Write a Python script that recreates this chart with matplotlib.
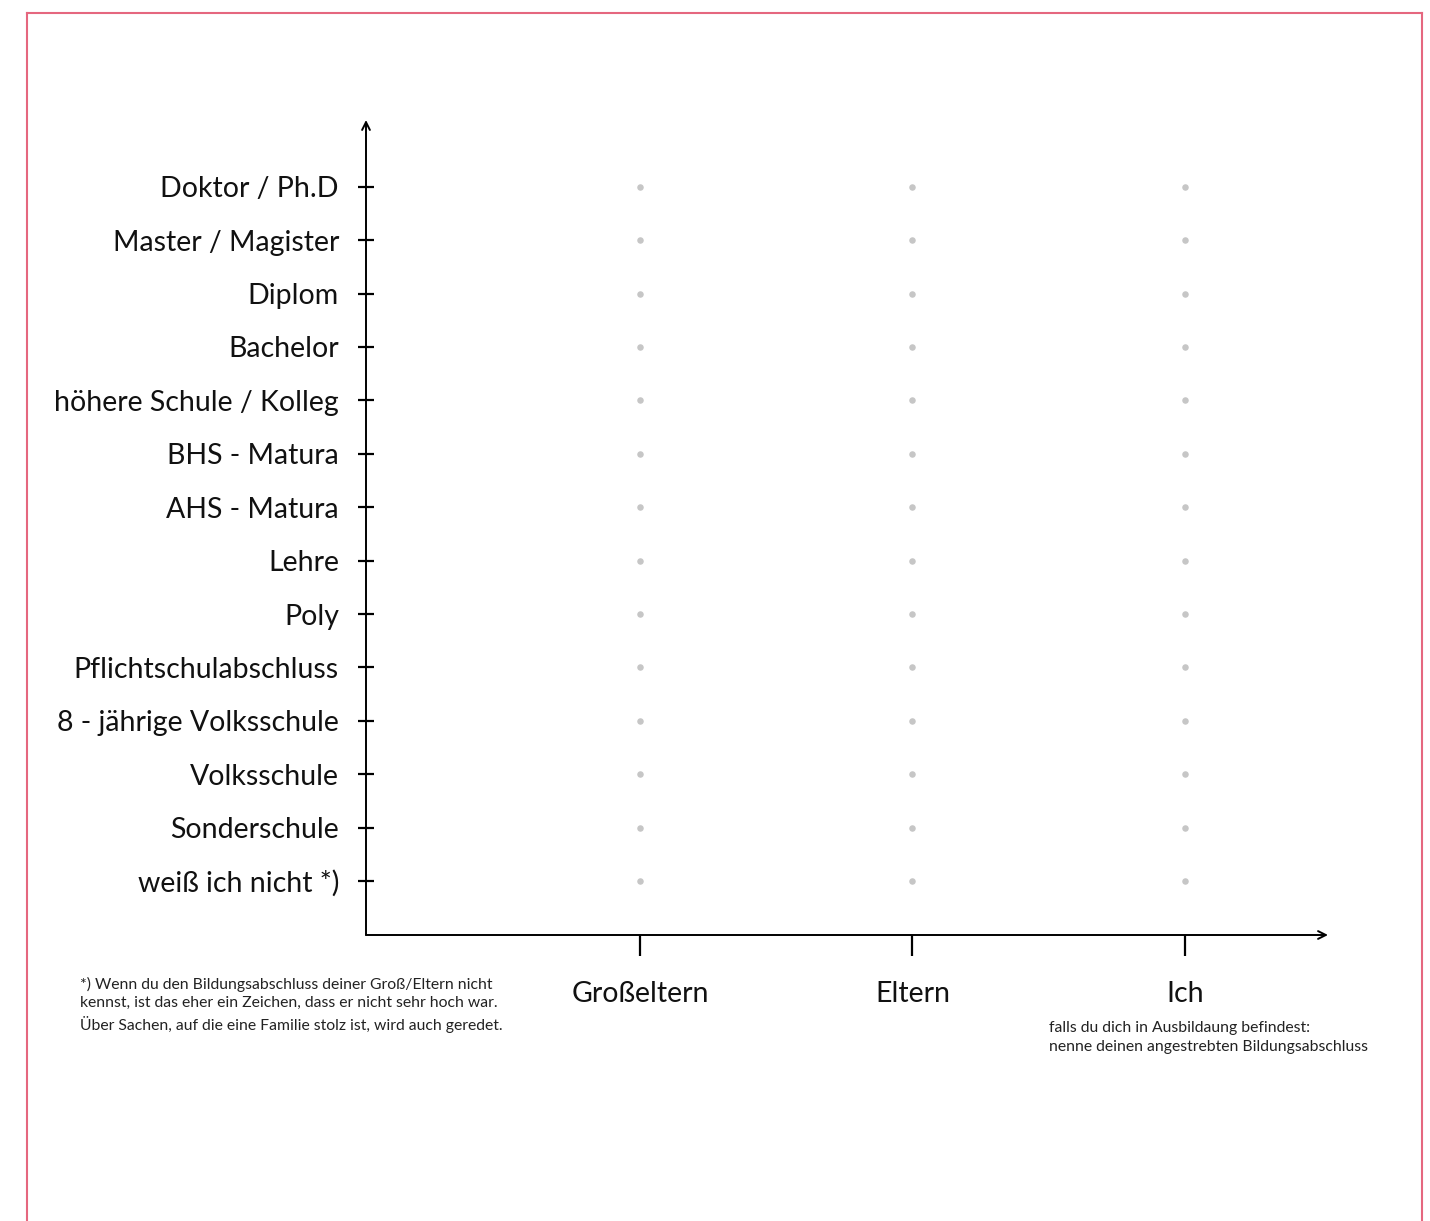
import matplotlib.pyplot as plt
from matplotlib.lines import Line2D

plt.rcParams['font.family'] = ['Lato', 'DejaVu Sans']

# education levels, bottom to top
levels = ["weiß ich nicht *)", "Sonderschule", "Volksschule",
          "8 - jährige Volksschule", "Pflichtschulabschluss", "Poly",
          "Lehre", "AHS - Matura", "BHS - Matura",
          "höhere Schule / Kolleg", "Bachelor", "Diplom",
          "Master / Magister", "Doktor / Ph.D"]
generations = ["Großeltern", "Eltern", "Ich"]

footnote = ("*) Wenn du den Bildungsabschluss deiner Groß/Eltern nicht\n"
            "kennst, ist das eher ein Zeichen, dass er nicht sehr hoch war.\n"
            "Über Sachen, auf die eine Familie stolz ist, wird auch geredet.")
ich_note = ("falls du dich in Ausbildaung befindest:\n"
            "nenne deinen angestrebten Bildungsabschluss")

W, H = 1430, 1221
fig = plt.figure(figsize=(W / 100, H / 100), dpi=100)
ax = fig.add_axes([366 / W, 1 - 935 / H, (1328 - 366) / W, (935 - 120) / H])

# empty grid of dots to fill in
for i, g in enumerate(generations):
    for j, lv in enumerate(levels):
        ax.scatter(i, j, s=22, color='#c6c6c6', linewidths=0, zorder=3)

ax.set_xlim(-1.005, 2.525)
ax.set_ylim(-1.01, 14.25)

ax.set_yticks(range(len(levels)))
ax.set_yticklabels(levels, fontsize=20.5, color='#111111')
ax.set_xticks(range(len(generations)))
ax.set_xticklabels(generations, fontsize=20.5, color='#111111')

ax.tick_params(axis='y', direction='inout', length=12, width=1.6, pad=13.5,
               color='black')
ax.tick_params(axis='x', direction='out', length=15, width=1.6, pad=18,
               color='black')

for s in ax.spines.values():
    s.set_visible(False)

# axes with arrow heads
ax.annotate('', xy=(0, 1.0), xytext=(0, 0), xycoords='axes fraction',
            arrowprops=dict(arrowstyle='->', lw=1.4, color='black',
                            mutation_scale=14, shrinkA=0, shrinkB=0))
ax.annotate('', xy=(1.0, 0), xytext=(0, 0), xycoords='axes fraction',
            arrowprops=dict(arrowstyle='->', lw=1.4, color='black',
                            mutation_scale=14, shrinkA=0, shrinkB=0))

fig.text(80 / W, 1 - 977 / H, footnote, fontsize=11.3, va='top', ha='left',
         color='#222222', linespacing=1.38)
fig.text(1049 / W, 1 - 1021 / H, ich_note, fontsize=11.3, va='top', ha='left',
         color='#222222', linespacing=1.5)

# pink page border (open at the bottom)
border = '#e5677f'
fig.add_artist(Line2D([27 / W, 27 / W], [0, 1 - 13 / H], color=border, lw=1.5))
fig.add_artist(Line2D([27 / W, 1422 / W], [1 - 13 / H, 1 - 13 / H], color=border, lw=1.5))
fig.add_artist(Line2D([1422 / W, 1422 / W], [0, 1 - 13 / H], color=border, lw=1.5))

plt.savefig('out.png', dpi=100)
